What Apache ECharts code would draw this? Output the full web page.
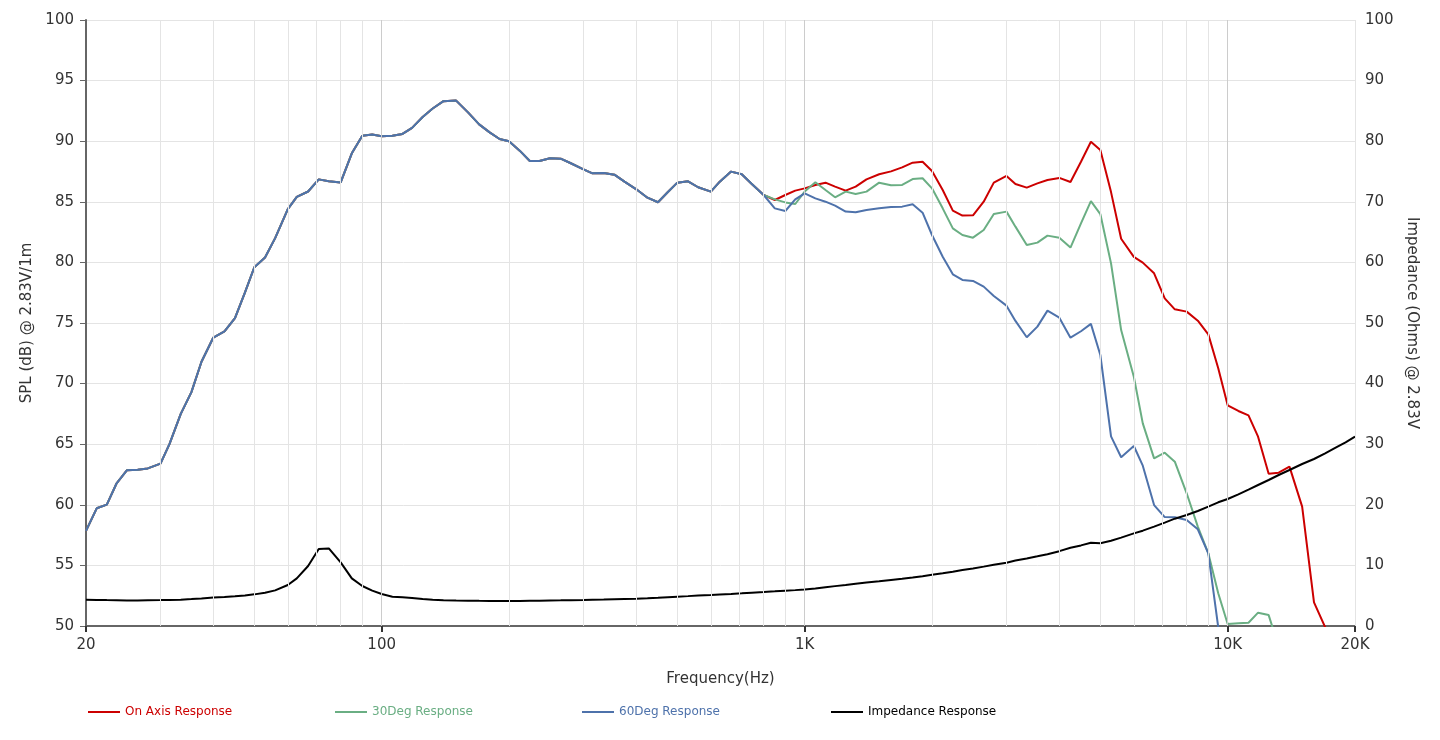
<!DOCTYPE html>
<html>
<head>
<meta charset="utf-8">
<title>Frequency Response</title>
<script src="https://cdn.jsdelivr.net/npm/echarts@6/dist/echarts.min.js"></script>
<style>
    html, body { margin: 0; padding: 0; background: #fff; }
    #response_figure { width: 1440px; height: 740px; }
</style>
</head>
<body>
<div id="response_figure"></div>
<script>
// 1/12 octave frequencies (Hz)
var freq = [
    20, 21.2, 22.4, 23.6, 25, 26.5, 28, 30, 31.5, 33.5,
    35.5, 37.5, 40, 42.5, 45, 47.5, 50, 53, 56, 60,
    63, 67, 71, 75, 80, 85, 90, 95, 100, 106,
    112, 118, 125, 132, 140, 150, 160, 170, 180, 190,
    200, 212, 224, 236, 250, 265, 280, 300, 315, 335,
    355, 375, 400, 425, 450, 475, 500, 530, 560, 600,
    630, 670, 710, 750, 800, 850, 900, 950, 1000, 1060,
    1120, 1180, 1250, 1320, 1400, 1500, 1600, 1700, 1800, 1900,
    2000, 2120, 2240, 2360, 2500, 2650, 2800, 3000, 3150, 3350,
    3550, 3750, 4000, 4250, 4500, 4750, 5000, 5300, 5600, 6000,
    6300, 6700, 7100, 7500, 8000, 8500, 9000, 9500, 10000, 10600,
    11200, 11800, 12500, 13200, 14000, 15000, 16000, 17000, 18000, 19000,
    20000
];

// SPL dB
var onAxis = [
    57.85, 59.71, 60.01, 61.74, 62.86, 62.9, 63.0, 63.4, 65.0, 67.5,
    69.3, 71.8, 73.8, 74.3, 75.4, 77.5, 79.6, 80.4, 82.0, 84.4,
    85.4, 85.85, 86.85, 86.7, 86.6, 89.0, 90.45, 90.55, 90.4, 90.45,
    90.6, 91.1, 92.0, 92.7, 93.3, 93.35, 92.38, 91.39, 90.73, 90.18,
    89.99, 89.22, 88.37, 88.37, 88.59, 88.56, 88.18, 87.68, 87.35, 87.38,
    87.24, 86.66, 86.03, 85.34, 84.96, 85.81, 86.58, 86.69, 86.2, 85.84,
    86.66, 87.49, 87.27, 86.47, 85.56, 85.15, 85.56, 85.92, 86.11, 86.39,
    86.58, 86.25, 85.92, 86.25, 86.85, 87.27, 87.51, 87.84, 88.23, 88.31,
    87.54, 85.97, 84.27, 83.86, 83.88, 85.01, 86.58, 87.13, 86.47, 86.17,
    86.52, 86.8, 86.97, 86.63, 88.31, 89.96, 89.27, 85.8, 81.95, 80.45,
    79.98, 79.1, 77.03, 76.13, 75.94, 75.19, 74.06, 71.26, 68.21, 67.74,
    67.38, 65.62, 62.57, 62.65, 63.15, 59.85, 51.95, 49.9, null, null,
    null
];
var deg30 = [
    57.85, 59.71, 60.01, 61.74, 62.86, 62.9, 63.0, 63.4, 65.0, 67.5,
    69.3, 71.8, 73.8, 74.3, 75.4, 77.5, 79.6, 80.4, 82.0, 84.4,
    85.4, 85.85, 86.85, 86.7, 86.6, 89.0, 90.45, 90.55, 90.4, 90.45,
    90.6, 91.1, 92.0, 92.7, 93.3, 93.35, 92.38, 91.39, 90.73, 90.18,
    89.99, 89.22, 88.37, 88.37, 88.59, 88.56, 88.18, 87.68, 87.35, 87.38,
    87.24, 86.66, 86.03, 85.34, 84.96, 85.81, 86.58, 86.69, 86.2, 85.84,
    86.66, 87.49, 87.27, 86.47, 85.56, 85.2, 84.95, 84.82, 85.84, 86.61,
    85.97, 85.37, 85.84, 85.64, 85.84, 86.58, 86.36, 86.39, 86.88, 86.94,
    86.11, 84.46, 82.81, 82.26, 82.04, 82.67, 83.99, 84.19, 82.95, 81.44,
    81.63, 82.21, 82.04, 81.22, 83.22, 85.06, 83.99, 79.92, 74.42, 70.57,
    66.72, 63.83, 64.3, 63.56, 60.95, 58.2, 56.0, 52.7, 50.17, 50.22,
    50.27, 51.1, 50.9, 48.3, null, null, null, null, null, null,
    null
];
var deg60 = [
    57.85, 59.71, 60.01, 61.74, 62.86, 62.9, 63.0, 63.4, 65.0, 67.5,
    69.3, 71.8, 73.8, 74.3, 75.4, 77.5, 79.6, 80.4, 82.0, 84.4,
    85.4, 85.85, 86.85, 86.7, 86.6, 89.0, 90.45, 90.55, 90.4, 90.45,
    90.6, 91.1, 92.0, 92.7, 93.3, 93.35, 92.38, 91.39, 90.73, 90.18,
    89.99, 89.22, 88.37, 88.37, 88.59, 88.56, 88.18, 87.68, 87.35, 87.38,
    87.24, 86.66, 86.03, 85.34, 84.96, 85.81, 86.58, 86.69, 86.2, 85.84,
    86.66, 87.49, 87.27, 86.47, 85.56, 84.46, 84.24, 85.2, 85.69, 85.28,
    85.01, 84.68, 84.19, 84.13, 84.32, 84.46, 84.57, 84.6, 84.79, 84.1,
    82.26, 80.47, 79.02, 78.55, 78.47, 78.0, 77.23, 76.43, 75.17, 73.82,
    74.7, 76.02, 75.44, 73.79, 74.32, 74.93, 72.36, 65.65, 63.92, 64.85,
    63.23, 59.98, 58.99, 58.97, 58.75, 57.98, 56.0, 49.9, null, null,
    null, null, null, null, null, null, null, null, null, null,
    null
];
// Impedance (Ohms)
var impedance = [
    4.35, 4.3, 4.27, 4.25, 4.22, 4.22, 4.24, 4.27, 4.3, 4.35,
    4.45, 4.55, 4.7, 4.8, 4.9, 5.05, 5.22, 5.5, 5.88, 6.76,
    7.86, 9.9, 12.7, 12.8, 10.5, 7.86, 6.6, 5.83, 5.28, 4.84,
    4.73, 4.62, 4.45, 4.35, 4.25, 4.2, 4.18, 4.15, 4.13, 4.13,
    4.13, 4.13, 4.15, 4.17, 4.2, 4.23, 4.26, 4.29, 4.33, 4.37,
    4.42, 4.47, 4.51, 4.58, 4.66, 4.75, 4.84, 4.93, 5.02, 5.12,
    5.21, 5.3, 5.39, 5.5, 5.61, 5.72, 5.83, 5.92, 6.02, 6.2,
    6.4, 6.58, 6.76, 6.96, 7.16, 7.37, 7.58, 7.78, 8.0, 8.22,
    8.45, 8.7, 8.96, 9.24, 9.5, 9.8, 10.1, 10.45, 10.8, 11.15,
    11.5, 11.85, 12.35, 12.9, 13.3, 13.75, 13.64, 14.08, 14.58, 15.29,
    15.73, 16.39, 17.05, 17.71, 18.32, 18.98, 19.69, 20.41, 20.96, 21.73,
    22.5, 23.27, 24.09, 24.92, 25.74, 26.73, 27.56, 28.49, 29.43, 30.31,
    31.24
];

var xLabels = [20, 100, 1000, 10000, 20000];
var majorGrid = [100, 1000, 10000];
var minorGrid = [30, 40, 50, 60, 70, 80, 90,
    200, 300, 400, 500, 600, 700, 800, 900,
    2000, 3000, 4000, 5000, 6000, 7000, 8000, 9000, 20000];

var names = ['On Axis Response', '30Deg Response', '60Deg Response', 'Impedance Response'];
var colors = ['#cc0000', '#6aae83', '#4e72ab', '#000000'];
var legendLeft = [88, 335, 582, 831];

function pairs(vals) {
    var out = [];
    for (var i = 0; i < freq.length; i++) {
        if (vals[i] !== null) out.push([freq[i], vals[i]]);
    }
    return out;
}

var font = 'DejaVu Sans, Verdana, sans-serif';
var myChart = echarts.init(document.getElementById('response_figure'));

var gridLines = [];
for (i = 0; i < minorGrid.length; i++) {
    gridLines.push({xAxis: minorGrid[i], lineStyle: {color: '#e4e4e4'}});
}
for (i = 0; i < majorGrid.length; i++) {
    gridLines.push({xAxis: majorGrid[i], lineStyle: {color: '#cccccc'}});
}

// one legend per item so they sit at fixed spacing
var legends = [];
for (i = 0; i < names.length; i++) {
    legends.push({
        left: legendLeft[i],
        top: 706,
        padding: 0,
        icon: 'rect',
        itemWidth: 32,
        itemHeight: 2,
        textStyle: {fontSize: 12, fontFamily: font, color: colors[i]},
        data: [names[i]]
    });
}

var option = {
    animation: false,
    textStyle: {fontFamily: font},
    grid: {left: 86, right: 85, top: 20, bottom: 114},
    legend: legends,
    xAxis: {
        type: 'log',
        logBase: 10,
        min: 20,
        max: 20000,
        name: 'Frequency(Hz)',
        nameLocation: 'middle',
        nameGap: 46,
        nameTextStyle: {fontSize: 15, color: '#333', fontFamily: font},
        axisLine: {lineStyle: {color: '#666', width: 2}},
        axisTick: {show: true, customValues: xLabels, length: 6, lineStyle: {color: '#333', width: 2}},
        axisLabel: {
            customValues: xLabels,
            fontSize: 15,
            color: '#333',
            margin: 12,
            formatter: function (v) {
                if (v >= 1000) return Math.round(v / 1000) + 'K';
                return String(Math.round(v));
            }
        },
        splitLine: {show: false},
        minorSplitLine: {show: false}
    },
    yAxis: [
        {
            type: 'value',
            min: 50,
            max: 100,
            interval: 5,
            name: 'SPL (dB) @ 2.83V/1m',
            nameLocation: 'middle',
            nameGap: 43,
            nameTextStyle: {fontSize: 15, color: '#333', fontFamily: font},
            axisLine: {show: true, lineStyle: {color: '#666', width: 2}},
            axisTick: {show: true, length: 6, lineStyle: {color: '#666'}},
            axisLabel: {fontSize: 15, color: '#333', margin: 12},
            splitLine: {show: true, lineStyle: {color: '#e4e4e4'}}
        },
        {
            type: 'value',
            min: 0,
            max: 100,
            interval: 10,
            position: 'right',
            name: 'Impedance (Ohms) @ 2.83V',
            nameLocation: 'middle',
            nameRotate: -90,
            nameGap: 41,
            nameTextStyle: {fontSize: 15, color: '#333', fontFamily: font},
            axisLine: {show: false},
            axisTick: {show: false},
            axisLabel: {fontSize: 15, color: '#333', margin: 10},
            splitLine: {show: false}
        }
    ],
    series: [
        {
            name: 'grid',
            type: 'line',
            data: [],
            z: 0,
            silent: true,
            markLine: {
                silent: true,
                symbol: ['none', 'none'],
                label: {show: false},
                lineStyle: {type: 'solid', width: 1},
                data: gridLines
            }
        },
        {
            name: names[0],
            type: 'line',
            symbol: 'none',
            lineStyle: {width: 2, color: colors[0]},
            itemStyle: {color: colors[0]},
            data: pairs(onAxis)
        },
        {
            name: names[1],
            type: 'line',
            symbol: 'none',
            lineStyle: {width: 2, color: colors[1]},
            itemStyle: {color: colors[1]},
            data: pairs(deg30)
        },
        {
            name: names[2],
            type: 'line',
            symbol: 'none',
            lineStyle: {width: 2, color: colors[2]},
            itemStyle: {color: colors[2]},
            data: pairs(deg60)
        },
        {
            name: names[3],
            type: 'line',
            yAxisIndex: 1,
            symbol: 'none',
            lineStyle: {width: 2, color: colors[3]},
            itemStyle: {color: colors[3]},
            data: pairs(impedance)
        }
    ]
};
myChart.setOption(option);
</script>
</body>
</html>
